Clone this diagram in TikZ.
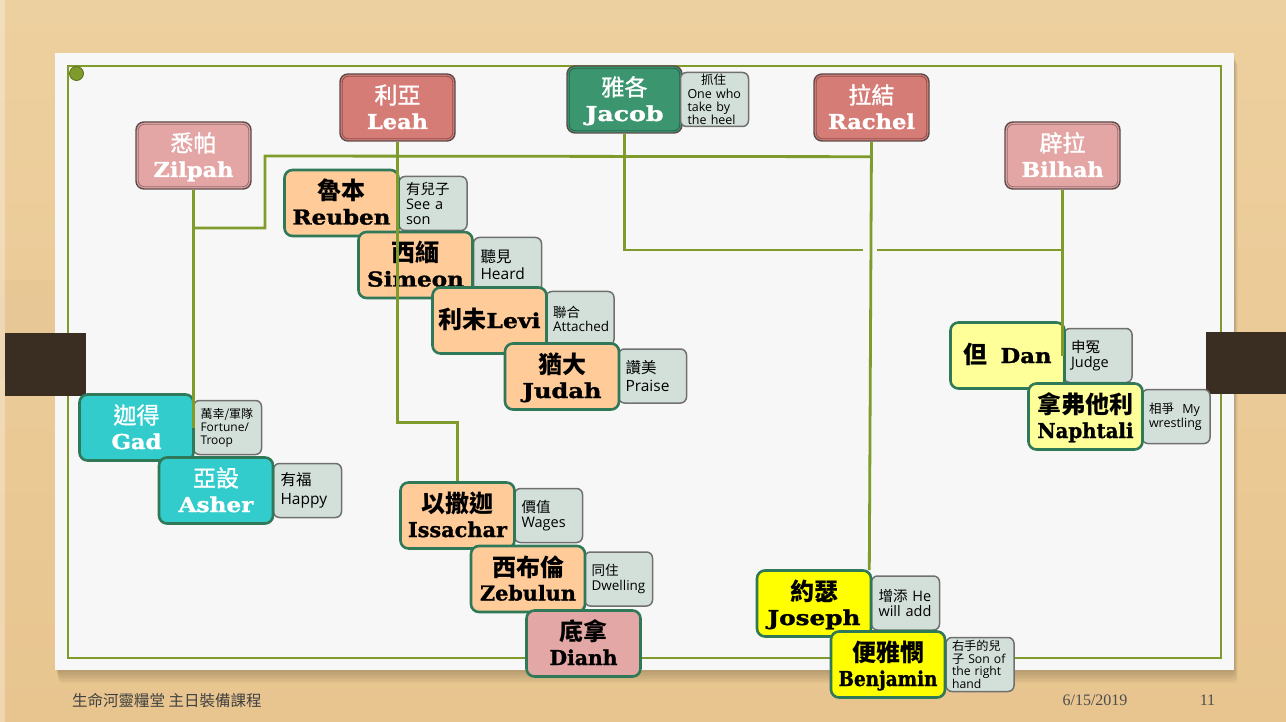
\documentclass[tikz,border=0pt]{standalone}
\usepackage{fontspec}
\usepackage{graphicx}
\usetikzlibrary{calc}
\newfontfamily\cjk{Noto Sans CJK TC}
\newfontfamily\cjkmed{Noto Sans CJK TC}[FakeBold=1.2]
\newfontfamily\enf{DejaVu Serif}[BoldFeatures={FakeBold=1.3}]
\newfontfamily\msans{Open Sans}
\newfontfamily\dt{Liberation Serif}
\definecolor{wood}{HTML}{E8C58F}
\definecolor{woodlight}{HTML}{EDD09F}
\definecolor{paper}{HTML}{F7F7F7}
\definecolor{olive}{HTML}{7F9B2B}
\definecolor{tabc}{HTML}{3A2D22}
\definecolor{parentred}{HTML}{D67C76}
\definecolor{parentpink}{HTML}{E3A6A5}
\definecolor{jacobgreen}{HTML}{3B9670}
\definecolor{kidorange}{HTML}{FFCC99}
\definecolor{kidcyan}{HTML}{33CCCC}
\definecolor{kidpink}{HTML}{E3A8A6}
\definecolor{kidpale}{HTML}{FFFF99}
\definecolor{kidyellow}{HTML}{FFFF00}
\definecolor{kidborder}{HTML}{2F7858}
\definecolor{meanfill}{HTML}{D3E0DA}
\definecolor{meanborder}{HTML}{707070}
\definecolor{pborder}{HTML}{5C4A4A}
\newsavebox\fitbox
\newcommand\FitW[2]{\sbox\fitbox{#2}\pgfmathsetmacro\fitsx{#1/\the\wd\fitbox}\scalebox{\fitsx}[1]{\usebox\fitbox}}
\def\WhiteName{white}
\tikzset{
  parentbox/.style={rounded corners=8pt, minimum width=115pt, minimum height=67pt, draw=pborder, line width=1.4pt, inner sep=0pt},
  kidbox/.style={rounded corners=8pt, minimum width=114pt, minimum height=66pt, draw=kidborder, line width=2.6pt, inner sep=0pt},
  meanbox/.style={rounded corners=6pt, minimum width=68pt, minimum height=54pt, fill=meanfill, draw=meanborder, line width=1.5pt, inner xsep=7pt, inner ysep=0pt, align=left, text width=54pt},
  cnlab/.style={inner sep=0pt, font=\cjk\bfseries\fontsize{24}{24}\selectfont, anchor=base},
  cnlight/.style={inner sep=0pt, font=\cjkmed\fontsize{23}{23}\selectfont, anchor=base},
  enlab/.style={inner sep=0pt, font=\enf\bfseries\fontsize{20.5}{21}\selectfont, anchor=base},
  link/.style={draw=olive, line width=2.8pt},
}
% #1 name, #2 x, #3 y, #4 box style, #5 fill, #6 text colour, #7 chinese, #8 english width, #9 english
\newcommand\Person[9]{%
  \node[#4, fill=#5] (#1) at (#2,#3) {};
  \def\TextColName{#6}%
  \ifx\TextColName\WhiteName
    \node[cnlight, text=#6] (#1-cn) at ($(#1.center)+(0,-3.8)$) {#7};
  \else
    \node[cnlab, text=#6] (#1-cn) at ($(#1.center)+(0,-3.0)$) {#7};
  \fi
  \node[enlab, text=#6] (#1-en) at ($(#1.center)+(0,21.5)$) {\FitW{#8}{#9}};
}
\newcommand\Inner[1]{%
  \draw[black, opacity=0.35, line width=0.8pt, rounded corners=6pt] ($(#1.north west)+(3,3)$) rectangle ($(#1.south east)+(-3,-3)$);
}
% #1 name, #2 x, #3 y, #4 size, #5 skip, #6 text
\newcommand\Meaning[6]{%
  \node[meanbox, font=\msans\fontsize{#4}{#5}\selectfont] (#1) at (#2,#3) {#6};
}
\begin{document}
\begin{tikzpicture}[x=1pt,y=-1pt]
\useasboundingbox (0,0) rectangle (1286,722);
% background
\shade[top color=woodlight, bottom color=wood] (0,0) rectangle (1286,722);
\fill[wood!80!black, opacity=0.08] (0,280) rectangle (60,380);
\fill[white, opacity=0.3] (0,0) rectangle (5,722);
% paper shadow
\foreach \k in {1,...,6}{
  \fill[black, opacity=0.035, rounded corners=4pt] ($(55,53)+(\k*0.6,\k*1.6)$) rectangle ($(1234,670)+(\k*0.6,\k*2.2)$);
}
\fill[paper] (55,53) rectangle (1234,670);
\draw[olive, line width=2pt] (68,66) rectangle (1221,658);
\filldraw[fill=olive, draw=olive!70!black, line width=0.8pt] (76.5,73.5) circle (7);
% tabs
\fill[tabc] (5,333) rectangle (86,396);
\fill[tabc] (1206,332) rectangle (1286,394);

% parents
\Person{zilpah}{193.5}{155.5}{parentbox}{parentpink}{white}{悉帕}{80}{Zilpah}\Inner{zilpah}
\Person{leah}{397.5}{107.5}{parentbox}{parentred}{white}{利亞}{61}{Leah}\Inner{leah}
\Person{jacob}{624.5}{99.5}{parentbox}{jacobgreen}{white}{雅各}{78}{Jacob}\Inner{jacob}
\Person{rachel}{871.5}{107.5}{parentbox}{parentred}{white}{拉結}{87}{Rachel}\Inner{rachel}
\Person{bilhah}{1062.5}{155.5}{parentbox}{parentpink}{white}{辟拉}{82}{Bilhah}\Inner{bilhah}
\Meaning{jacobm}{714.5}{99.5}{12.5}{13.2}{\makebox[52pt]{{\cjk 抓住}}\\One who\\take by\\the heel}

% Leah's sons
\Meaning{reubenm}{433}{203.5}{14.5}{15.2}{{\cjk 有兒子}\\See a\\son}
\Person{reuben}{341.5}{203}{kidbox}{kidorange}{black}{魯本}{98}{Reuben}
\Meaning{simeonm}{507.5}{264.5}{15.5}{16.5}{{\cjk 聽見}\\Heard}
\Person{simeon}{415.5}{265}{kidbox}{kidorange}{black}{西緬}{97}{Simeon}
\Meaning{levim}{580}{318.5}{13.5}{14}{{\cjk 聯合}\\Attached}
\node[kidbox, fill=kidorange] (levi) at (489.5,320.5) {};
\node[inner sep=0pt, anchor=base] (levi-t) at ($(levi.center)+(0,7.5)$) {{\cjk\bfseries\fontsize{24}{24}\selectfont 利未}{\enf\bfseries\fontsize{20.5}{21}\selectfont\FitW{54}{Levi}}};
\Meaning{judahm}{652.5}{376}{15.5}{17.5}{{\cjk 讚美}\\Praise}
\Person{judah}{562}{376.5}{kidbox}{kidorange}{black}{猶大}{79}{Judah}

% Zilpah's sons
\Meaning{gadm}{227.5}{427.5}{12}{13}{{\cjk 萬幸/軍隊}\\Fortune/\\Troop}
\Person{gad}{136.5}{427.5}{kidbox}{kidcyan}{white}{迦得}{50}{Gad}
\Meaning{asherm}{307.5}{490.5}{15.5}{18.5}{{\cjk 有福}\\Happy}
\Person{asher}{216}{490.5}{kidbox}{kidcyan}{white}{亞設}{75}{Asher}

% Leah's later children
\Meaning{issm}{548.5}{515.5}{14.5}{15.5}{{\cjk 價值}\\Wages}
\Person{issachar}{457.5}{515.5}{kidbox}{kidorange}{black}{以撒迦}{99}{Issachar}
\Meaning{zebm}{618.5}{579}{13.5}{14.5}{{\cjk 同住}\\Dwelling}
\Person{zebulun}{528}{579}{kidbox}{kidorange}{black}{西布倫}{96}{Zebulun}
\Person{dianh}{583.5}{643.5}{kidbox}{kidpink}{black}{底拿}{68}{Dianh}

% Bilhah's sons
\Meaning{danm}{1098}{355.5}{14.5}{15.5}{{\cjk 申冤}\\Judge}
\node[kidbox, fill=kidpale] (dan) at (1007.5,355.5) {};
\node[inner sep=0pt, anchor=base] (dan-t) at ($(dan.center)+(0,7.5)$) {{\cjk\bfseries\fontsize{24}{24}\selectfont 但}\hspace{13pt}{\enf\bfseries\fontsize{20.5}{21}\selectfont\FitW{51}{Dan}}};
\Meaning{naphm}{1176}{416.5}{12.5}{13.5}{{\cjk 相爭}\ \ My\\wrestling}
\Person{naphtali}{1085.5}{416.5}{kidbox}{kidpale}{black}{拿弗他利}{96}{Naphtali}

% Rachel's sons
\Meaning{josm}{905.5}{603}{14.5}{15.5}{{\cjk 增添} He\\will add}
\Person{joseph}{814}{603.5}{kidbox}{kidyellow}{black}{約瑟}{93}{Joseph}
\node[meanbox, inner xsep=6pt, text width=56pt, font=\msans\fontsize{12.2}{12.6}\selectfont] (benm) at (980,664.5) {{\cjk 右手的兒}\\{\cjk 子} Son of\\the right\\hand};
\Person{benjamin}{888}{664.5}{kidbox}{kidyellow}{black}{便雅憫}{99}{Benjamin}

% connectors
\coordinate (mA) at ($(rachel.south)+(0,15)$);
\coordinate (mB) at (265,156);
\coordinate (mC) at (265,228);
\draw[link] (mA) -- (mB) -- (mC) -- (zilpah.south |- mC);
\draw[link] (zilpah.south) -- (zilpah.south |- gad.east);
\draw[link] (leah.south) |- ($(issachar.north)+(0,-59)$) -| (issachar.north);
\draw[link] (rachel.south) -- ($(joseph.north east)+(-3,1)$);
\coordinate (jL) at (863,250);
\coordinate (jR) at (877,250);
\draw[link] (jacob.south) |- (jL);
\draw[link] (jR) -- (bilhah.south |- jR);
\draw[link] (bilhah.south) -- (bilhah.south |- dan.east);

% footer
\node[anchor=west, inner sep=0pt, text=black!75, font=\cjk\fontsize{15.5}{16}\selectfont] (foot) at (72,701) {生命河靈糧堂 主日裝備課程};
\node[anchor=center, inner sep=0pt, text=black!70, font=\dt\fontsize{16}{16}\selectfont] (date) at (1095,700) {6/15/2019};
\node[anchor=center, inner sep=0pt, text=black!70, font=\dt\fontsize{16}{16}\selectfont] (page) at (1207.5,700) {11};
\end{tikzpicture}
\end{document}
